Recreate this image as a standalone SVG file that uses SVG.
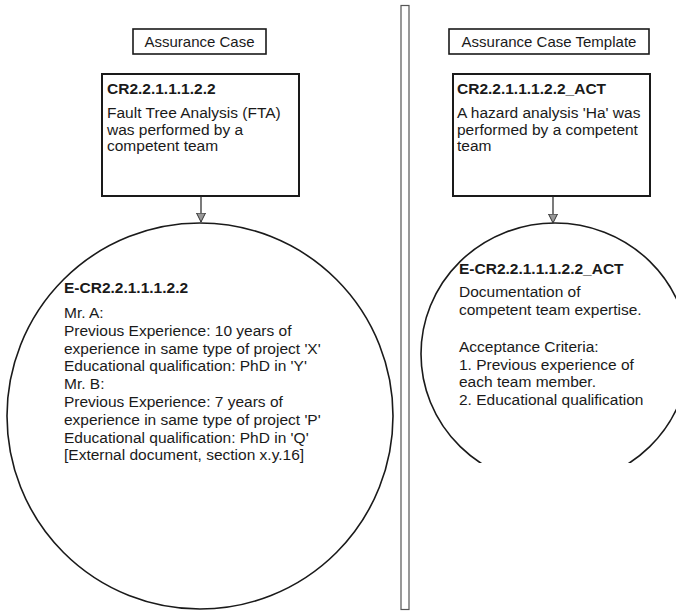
<svg xmlns="http://www.w3.org/2000/svg" width="676" height="611" viewBox="0 0 676 611">
<defs>
<style>
.t{font-family:"Liberation Sans",Arial,sans-serif;font-size:15.5px;fill:#1a1a1a}
.b{font-weight:bold}
.lbl{font-family:"Liberation Sans",Arial,sans-serif;font-size:15px;fill:#1a1a1a;text-anchor:middle}
.box{fill:#fff;stroke:#1a1a1a;stroke-width:2}
.lb{fill:#fff;stroke:#1a1a1a;stroke-width:1.6}
.ev{fill:#fff;stroke:#1a1a1a;stroke-width:1.6}
.con{stroke:#222;stroke-width:1.2;fill:none}
</style>
<marker id="arr" markerWidth="10" markerHeight="10" refX="9" refY="5" orient="auto" markerUnits="userSpaceOnUse">
<path d="M0,0.5 L9,5 L0,9.5 Z" fill="#999" stroke="#333" stroke-width="1"/>
</marker>
<clipPath id="cr"><rect x="0" y="0" width="676" height="463"/></clipPath>
</defs>
<rect width="676" height="611" fill="#fff"/>
<g id="divider"><rect x="401" y="5.5" width="8" height="604" fill="#fff" stroke="#555" stroke-width="1.2"/></g>
<g id="label-left"><rect class="lb" x="133" y="29" width="133" height="25"/><text class="lbl" x="199.5" y="47">Assurance Case</text></g>
<g id="label-right"><rect class="lb" x="449" y="29" width="200" height="25"/><text class="lbl" x="549" y="47">Assurance Case Template</text></g>
<g id="claim-left"><rect class="box" x="102" y="74" width="197" height="122"/>
<text class="t b" x="107" y="94">CR2.2.1.1.1.2.2</text>
<text class="t" x="107" y="118">Fault Tree Analysis (FTA)</text>
<text class="t" x="107" y="134.5">was performed by a</text>
<text class="t" x="107" y="151">competent team</text></g>
<g id="claim-right"><rect class="box" x="453" y="74" width="197" height="122"/>
<text class="t b" x="457" y="94">CR2.2.1.1.1.2.2_ACT</text>
<text class="t" x="457" y="118">A hazard analysis 'Ha' was</text>
<text class="t" x="457" y="134.5">performed by a competent</text>
<text class="t" x="457" y="151">team</text></g>
<g id="evidence-left"><circle class="ev" cx="200" cy="416" r="193"/>
<text class="t b" x="64" y="293">E-CR2.2.1.1.1.2.2</text>
<text class="t" x="64" y="318">Mr. A:</text>
<text class="t" x="64" y="335.8">Previous Experience: 10 years of</text>
<text class="t" x="64" y="353.6">experience in same type of project 'X'</text>
<text class="t" x="64" y="371.4">Educational qualification: PhD in 'Y'</text>
<text class="t" x="64" y="389.2">Mr. B:</text>
<text class="t" x="64" y="407">Previous Experience: 7 years of</text>
<text class="t" x="64" y="424.8">experience in same type of project 'P'</text>
<text class="t" x="64" y="442.6">Educational qualification: PhD in 'Q'</text>
<text class="t" x="64" y="460.4">[External document, section x.y.16]</text></g>
<g id="evidence-right"><ellipse class="ev" cx="555" cy="354" rx="134" ry="131" clip-path="url(#cr)"/>
<text class="t b" x="459" y="274">E-CR2.2.1.1.1.2.2_ACT</text>
<text class="t" x="459" y="297">Documentation of</text>
<text class="t" x="459" y="315">competent team expertise.</text>
<text class="t" x="459" y="352">Acceptance Criteria:</text>
<text class="t" x="459" y="369.5">1. Previous experience of</text>
<text class="t" x="459" y="387">each team member.</text>
<text class="t" x="459" y="405">2. Educational qualification</text></g>
<g id="connectors">
<line class="con" x1="201" y1="196" x2="201" y2="222" marker-end="url(#arr)"/>
<line class="con" x1="553" y1="196" x2="553" y2="223" marker-end="url(#arr)"/>
</g>
</svg>
